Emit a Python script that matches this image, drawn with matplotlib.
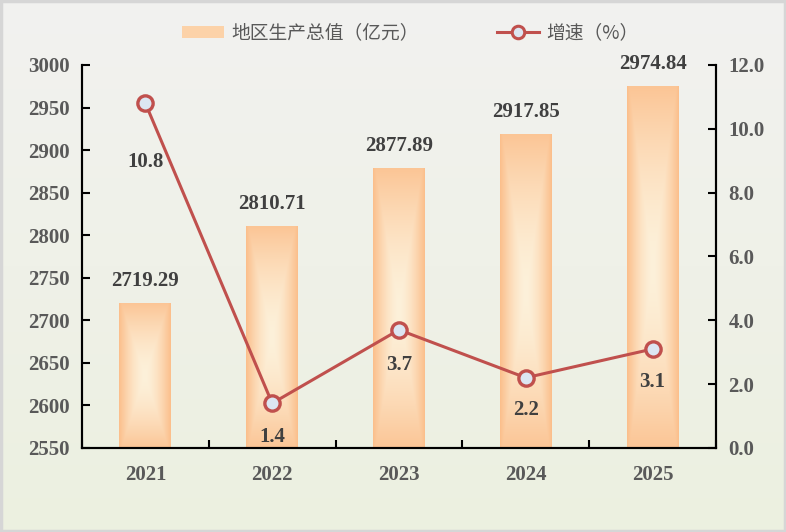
import matplotlib
matplotlib.use("Agg")
import matplotlib.pyplot as plt
import numpy as np
from matplotlib.patches import Rectangle
from matplotlib.lines import Line2D
from matplotlib.colors import to_rgb

# data
years = ["2021", "2022", "2023", "2024", "2025"]
gdp = [2719.29, 2810.71, 2877.89, 2917.85, 2974.84]
growth = [10.8, 1.4, 3.7, 2.2, 3.1]
gdp_label = "地区生产总值（亿元）"
growth_label = "增速（%）"

# label offsets below the line points (points)
growth_offsets = [-42, -24, -25, -23, -24]

NUM_FONT = "Liberation Serif"
CJK_FONT = "Noto Sans CJK SC"
LINE_RED = "#c0504d"
BAR_EDGE = np.array(to_rgb("#fbbf8c"))
BAR_MID = np.array(to_rgb("#fdf1da"))

fig = plt.figure(figsize=(7.86, 5.32), dpi=100)

# figure background gradient + border
bg = fig.add_axes([0, 0, 1, 1], zorder=-10)
top_c = np.array(to_rgb("#f2f2f0"))
bot_c = np.array(to_rgb("#ecf0e0"))
t = np.linspace(0, 1, 256)[:, None, None]
grad = top_c * (1 - t) + bot_c * t
bg.imshow(np.repeat(grad, 4, axis=1), aspect="auto", extent=(0, 1, 0, 1))
bg.add_patch(Rectangle((0.0015, 0.002), 0.997, 0.996, fill=False,
                       edgecolor="#d6d6d6", linewidth=2.5, transform=bg.transAxes))
bg.set_xlim(0, 1)
bg.set_ylim(0, 1)
bg.axis("off")

ax = fig.add_axes([0.1043, 0.158, 0.8066, 0.7199])
ax.patch.set_alpha(0)
ax2 = ax.twinx()

x = np.arange(len(years))
bar_w = 0.41

# gradient bars (rectangular gradient: orange edges, cream centre)
ny, nx = 200, 60
u = np.abs(np.linspace(-1, 1, nx))[None, :]
v = np.abs(np.linspace(-1, 1, ny))[:, None]
d = np.maximum(u, v * 0.92)
d = np.clip(d, 0, 1) ** 1.6
bar_img = BAR_MID * (1 - d[..., None]) + BAR_EDGE * d[..., None]
for xi, val in zip(x, gdp):
    ax.imshow(bar_img, extent=(xi - bar_w / 2, xi + bar_w / 2, 2550, val),
              aspect="auto", zorder=2, interpolation="bilinear")
    ax.annotate(f"{val:.2f}", (xi, val), xytext=(0, 9), textcoords="offset points",
                ha="center", va="bottom", fontsize=15, fontweight="bold",
                family=NUM_FONT, color="#404040", zorder=5)

ax.set_xlim(-0.5, len(years) - 0.5)
ax.set_ylim(2550, 3000)
ax.set_yticks(np.arange(2550, 3001, 50))
ax.set_xticks(x)
ax.set_xticklabels(years)
ax.set_xticks(np.arange(-0.5, len(years), 1), minor=True)
ax.tick_params(axis="x", which="major", length=0, pad=12)
ax.tick_params(axis="x", which="minor", direction="in", length=6, width=1.5, color="black")
ax.tick_params(axis="y", direction="in", length=6, width=1.5, pad=9)

for lab in ax.get_xticklabels() + ax.get_yticklabels():
    lab.set_fontfamily(NUM_FONT)
    lab.set_fontweight("bold")
    lab.set_fontsize(15)
    lab.set_color("#595959")

# growth line
ax2.plot(x, growth, color=LINE_RED, linewidth=2.2, marker="o", markersize=11,
         markerfacecolor="#dce6f2", markeredgecolor=LINE_RED, markeredgewidth=2.4,
         zorder=4)
for xi, val, off in zip(x, growth, growth_offsets):
    ax2.annotate(f"{val:.1f}", (xi, val), xytext=(0, off), textcoords="offset points",
                 ha="center", va="center", fontsize=15, fontweight="bold",
                 family=NUM_FONT, color="#404040")
ax2.set_ylim(0, 12)
ax2.set_yticks(np.arange(0, 12.1, 2))
ax2.set_yticklabels([f"{v:.1f}" for v in np.arange(0, 12.1, 2)])
ax2.tick_params(axis="y", direction="in", length=6, width=1.5, pad=9)
for lab in ax2.get_yticklabels():
    lab.set_fontfamily(NUM_FONT)
    lab.set_fontweight("bold")
    lab.set_fontsize(15)
    lab.set_color("#595959")

for a in (ax, ax2):
    a.spines["top"].set_visible(False)
    for s in ("left", "right", "bottom"):
        a.spines[s].set_linewidth(1.5)
        a.spines[s].set_color("black")

# legend
handles = [
    Rectangle((0, 0), 1, 1, facecolor="#fcd2a8", edgecolor="none"),
    Line2D([0], [0], color=LINE_RED, linewidth=2.2, marker="o", markersize=9,
           markerfacecolor="#dce6f2", markeredgecolor=LINE_RED, markeredgewidth=2.2),
]
fig.legend(handles, [gdp_label, growth_label], loc="center", bbox_to_anchor=(0.522, 0.938),
           ncol=2, frameon=False, handlelength=2.2, handleheight=0.6, columnspacing=4.2,
           handletextpad=0.4, prop={"family": CJK_FONT, "size": 13.5}, labelcolor="#595959")

fig.savefig("out.png", dpi=100)
